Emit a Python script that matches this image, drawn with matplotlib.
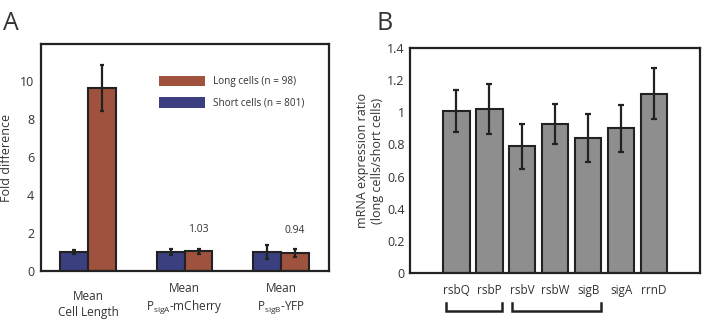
import numpy as np
import matplotlib
matplotlib.use("Agg")
import matplotlib.pyplot as plt
from matplotlib.patches import Patch
import matplotlib.transforms as mtransforms

plt.rcParams['font.family'] = ['Open Sans', 'DejaVu Sans']
plt.rcParams['mathtext.fontset'] = 'custom'
plt.rcParams['mathtext.rm'] = 'Open Sans'

# Panel A data
groups_a = ["Mean\nCell Length", "Mean\nP$_{\\mathrm{sigA}}$-mCherry", "Mean\nP$_{\\mathrm{sigB}}$-YFP"]
short_vals = [1.0, 1.0, 1.0]
short_err = [0.1, 0.16, 0.38]
long_vals = [9.65, 1.03, 0.94]
long_err = [1.2, 0.15, 0.2]
long_notes = ["", "1.03", "0.94"]

# Panel B data
genes = ["rsbQ", "rsbP", "rsbV", "rsbW", "sigB", "sigA", "rrnD"]
ratio = [1.01, 1.02, 0.79, 0.925, 0.84, 0.90, 1.115]
ratio_err = [0.13, 0.155, 0.14, 0.125, 0.15, 0.145, 0.158]
operons = [(0, 1), (2, 4)]

blue = "#3b3f7f"
red = "#9f523d"
grey = "#8e8e8e"
edge = "#222222"
txt = "#333333"

fig = plt.figure(figsize=(7.06, 3.2), dpi=100)

# ---- Panel A
ax = fig.add_axes([0.0581, 0.153, 0.408, 0.709])
x = np.arange(1, len(groups_a) + 1)
w = 0.29
ax.bar(x - w / 2, short_vals, w, color=blue, edgecolor=edge, linewidth=1.5, zorder=2)
ax.bar(x + w / 2, long_vals, w, color=red, edgecolor=edge, linewidth=1.5, zorder=2)
ax.errorbar(x - w / 2, short_vals, yerr=short_err, fmt="none", ecolor=edge,
            elinewidth=1.6, capsize=1.5, capthick=1.6, zorder=3)
ax.errorbar(x + w / 2, long_vals, yerr=long_err, fmt="none", ecolor=edge,
            elinewidth=1.6, capsize=1.5, capthick=1.6, zorder=3)
for xi, v, e, t in zip(x, long_vals, long_err, long_notes):
    if t:
        ax.text(xi + w / 2, v + e + 0.7, t, ha="center", va="bottom",
                fontsize=7.5, color=txt)
ax.set_xlim(0.51, 3.5)
ax.set_ylim(0, 11.95)
ax.set_yticks([0, 2, 4, 6, 8, 10])
ax.set_xticks([])
ax.tick_params(axis="y", length=0, pad=5, labelsize=9, labelcolor=txt)
ax.set_ylabel("Fold difference", fontsize=9, labelpad=5, color=txt)
trans = mtransforms.blended_transform_factory(ax.transData, ax.transAxes)
label_y = [-0.085, -0.05, -0.05]
for xi, lab, ly in zip(x, groups_a, label_y):
    ax.text(xi, ly, lab, transform=trans, ha="center", va="top", fontsize=8.5,
            linespacing=1.3, color=txt)
for s in ax.spines.values():
    s.set_linewidth(1.6)
    s.set_color(edge)
handles = [Patch(facecolor=red, label="Long cells (n = 98)"),
           Patch(facecolor=blue, label="Short cells (n = 801)")]
ax.legend(handles=handles, loc="upper left", bbox_to_anchor=(0.408, 0.86),
          frameon=False, fontsize=7.2, handlelength=4.6, handleheight=1.2,
          handletextpad=0.8, labelspacing=1.0, borderpad=0, borderaxespad=0,
          labelcolor=txt)
fig.text(0.004, 0.925, "A", fontsize=18, va="center", color=txt)

# ---- Panel B
bx = fig.add_axes([0.581, 0.147, 0.411, 0.703])
xb = np.arange(len(genes))
bx.bar(xb, ratio, 0.8, color=grey, edgecolor=edge, linewidth=1.5, zorder=2)
bx.errorbar(xb, ratio, yerr=ratio_err, fmt="none", ecolor=edge,
            elinewidth=1.6, capsize=2, capthick=1.6, zorder=3)
bx.set_xlim(-1.4, 7.4)
bx.set_ylim(0, 1.4)
bx.set_yticks(np.arange(0, 1.41, 0.2))
bx.set_yticklabels(["0", "0.2", "0.4", "0.6", "0.8", "1", "1.2", "1.4"])
bx.set_xticks(xb)
bx.set_xticklabels(genes)
bx.tick_params(length=0, labelsize=8.5, labelcolor=txt)
bx.tick_params(axis="x", pad=8)
bx.tick_params(axis="y", pad=4, labelsize=9)
bx.set_ylabel("mRNA expression ratio\n(long cells/short cells)", fontsize=9,
              labelpad=2, linespacing=1.2, color=txt)
for s in bx.spines.values():
    s.set_linewidth(1.6)
    s.set_color(edge)
tb = mtransforms.blended_transform_factory(bx.transData, bx.transAxes)
for a, b in operons:
    bx.plot([a - 0.32, a - 0.32, b + 0.38, b + 0.38], [-0.135, -0.17, -0.17, -0.135],
            transform=tb, color=edge, lw=1.8, clip_on=False,
            solid_joinstyle="miter")
fig.text(0.533, 0.925, "B", fontsize=18, va="center", color=txt)

fig.savefig("out.png", dpi=100)
